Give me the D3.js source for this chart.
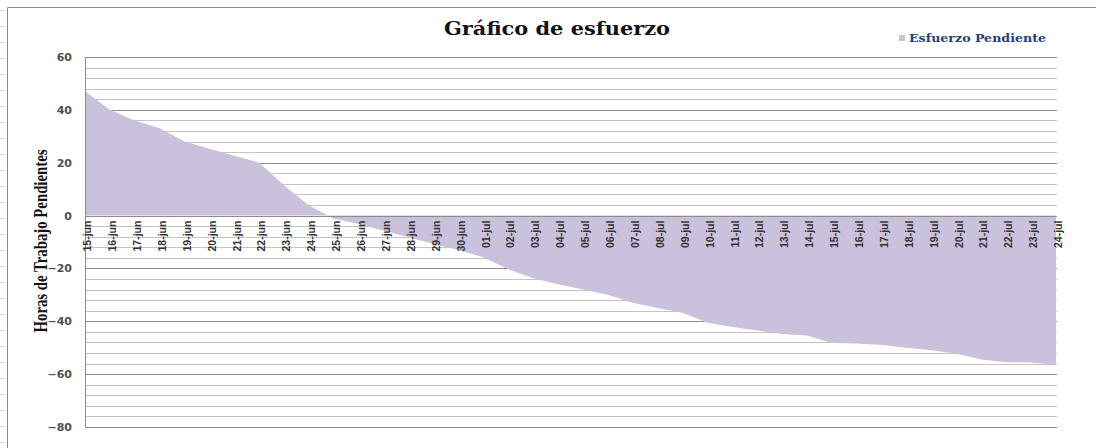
<!DOCTYPE html>
<html>
<head>
<meta charset="utf-8">
<script src="https://cdn.jsdelivr.net/npm/d3@7"></script>
<style>
  body { margin: 0; background: #fff; }
  svg { display: block; }
</style>
</head>
<body>
<div id="chart"></div>
<script>
// Datos
const days = [
  "15-jun", "16-jun", "17-jun", "18-jun", "19-jun", "20-jun", "21-jun", "22-jun",
  "23-jun", "24-jun", "25-jun", "26-jun", "27-jun", "28-jun", "29-jun", "30-jun",
  "01-jul", "02-jul", "03-jul", "04-jul", "05-jul", "06-jul", "07-jul", "08-jul",
  "09-jul", "10-jul", "11-jul", "12-jul", "13-jul", "14-jul", "15-jul", "16-jul",
  "17-jul", "18-jul", "19-jul", "20-jul", "21-jul", "22-jul", "23-jul", "24-jul"
];
const pendingHours = [
  47, 40, 36, 33, 28, 25.3, 22.6, 20,
  11.4, 3.8, -1.2, -3.2, -5.7, -8.2, -10.8, -13,
  -15.8, -20.3, -23.7, -26, -28, -30, -33, -35,
  -36.8, -40.6, -42.2, -43.5, -44.8, -45.4, -48.2, -48.4,
  -49, -50, -51, -52.3, -54.5, -55.5, -55.6, -56.4
];
const yTicks = [60, 40, 20, 0, -20, -40, -60, -80];
const yDomain = [-80, 60];

const data = days.map((d, i) => ({ day: d, value: pendingHours[i] }));

const width = 1096, height = 448;
const plot = { left: 85, right: 1056, top: 57, bottom: 427 };

const svg = d3.select("#chart")
  .append("svg")
  .attr("width", width)
  .attr("height", height);

const xScale = d3.scalePoint().domain(days).range([plot.left, plot.right]);
const yScale = d3.scaleLinear().domain(yDomain).range([plot.bottom, plot.top]);

// borde del area del grafico (y marcas de la hoja de calculo)
svg.append("g")
  .selectAll("line")
  .data(d3.range(10, height, 16))
  .join("line")
  .attr("x1", 0).attr("x2", 5)
  .attr("y1", d => d + 0.5).attr("y2", d => d + 0.5)
  .attr("stroke", "#d8d8d8");

svg.append("line")
  .attr("x1", 7.5).attr("x2", 7.5)
  .attr("y1", 7.5).attr("y2", height)
  .attr("stroke", "#8a8a8a");
svg.append("line")
  .attr("x1", 7.5).attr("x2", width)
  .attr("y1", 7.5).attr("y2", 7.5)
  .attr("stroke", "#8a8a8a");

// lineas de division: cada 4 (menores) y cada 20 (principales)
svg.append("g")
  .selectAll("line")
  .data(d3.range(yDomain[0], yDomain[1] + 1, 4))
  .join("line")
  .attr("x1", plot.left).attr("x2", plot.right + 1)
  .attr("y1", d => Math.round(yScale(d)) + 0.5)
  .attr("y2", d => Math.round(yScale(d)) + 0.5)
  .attr("stroke", d => d % 20 === 0 ? "#8c8c8c" : "#c4c4c4")
  .attr("stroke-width", 1);

// area
const area = d3.area()
  .x(d => xScale(d.day))
  .y0(yScale(0))
  .y1(d => yScale(d.value));

svg.append("path")
  .datum(data)
  .attr("d", area)
  .attr("fill", "#cac1dc");

// eje cero
svg.append("line")
  .attr("x1", plot.left).attr("x2", plot.right + 1)
  .attr("y1", Math.round(yScale(0)) + 0.5).attr("y2", Math.round(yScale(0)) + 0.5)
  .attr("stroke", "#8c8c8c");

// eje vertical
svg.append("line")
  .attr("x1", plot.left + 0.5).attr("x2", plot.left + 0.5)
  .attr("y1", plot.top).attr("y2", plot.bottom + 1)
  .attr("stroke", "#8c8c8c");

const yAxis = svg.append("g")
  .attr("transform", `translate(${plot.left},0)`)
  .call(d3.axisLeft(yScale).tickValues(yTicks).tickSize(0).tickPadding(13));
yAxis.select(".domain").remove();
yAxis.selectAll("text")
  .style("font-family", "'DejaVu Sans', Verdana, sans-serif")
  .style("font-size", "11px")
  .style("font-weight", "bold")
  .attr("fill", "#505050");

const xAxis = svg.append("g")
  .attr("transform", `translate(0,${yScale(0)})`)
  .call(d3.axisBottom(xScale).tickSize(0));
xAxis.select(".domain").remove();
xAxis.selectAll("text")
  .attr("transform", "rotate(-90)")
  .attr("x", -5)
  .attr("y", 2)
  .attr("dy", "0.35em")
  .style("text-anchor", "end")
  .style("font-family", "'Liberation Sans', Arial, sans-serif")
  .style("font-size", "10.5px")
  .style("font-weight", "bold")
  .attr("fill", "#333");

// titulo del eje Y
svg.append("text")
  .attr("transform", "translate(40,241) rotate(-90)")
  .attr("dy", "0.35em")
  .attr("text-anchor", "middle")
  .attr("textLength", 183)
  .attr("lengthAdjust", "spacingAndGlyphs")
  .style("font-family", "'Liberation Serif', 'Times New Roman', serif")
  .style("font-size", "19px")
  .style("font-weight", "bold")
  .attr("fill", "#111")
  .text("Horas de Trabajo Pendientes");

// titulo
svg.append("text")
  .attr("x", 557)
  .attr("y", 35)
  .attr("text-anchor", "middle")
  .attr("textLength", 226)
  .attr("lengthAdjust", "spacingAndGlyphs")
  .style("font-family", "'DejaVu Serif', Cambria, serif")
  .style("font-size", "19px")
  .style("font-weight", "bold")
  .attr("fill", "#111")
  .text("Gráfico de esfuerzo");

// leyenda
const legend = svg.append("g").attr("transform", "translate(899,35)");
legend.append("rect")
  .attr("width", 6).attr("height", 6)
  .attr("fill", "#cac1dc");
legend.append("text")
  .attr("x", 10)
  .attr("y", 7)
  .attr("textLength", 137)
  .attr("lengthAdjust", "spacingAndGlyphs")
  .style("font-family", "'DejaVu Serif', Cambria, serif")
  .style("font-size", "11px")
  .style("font-weight", "bold")
  .attr("fill", "#243f77")
  .text("Esfuerzo Pendiente");
</script>
</body>
</html>
